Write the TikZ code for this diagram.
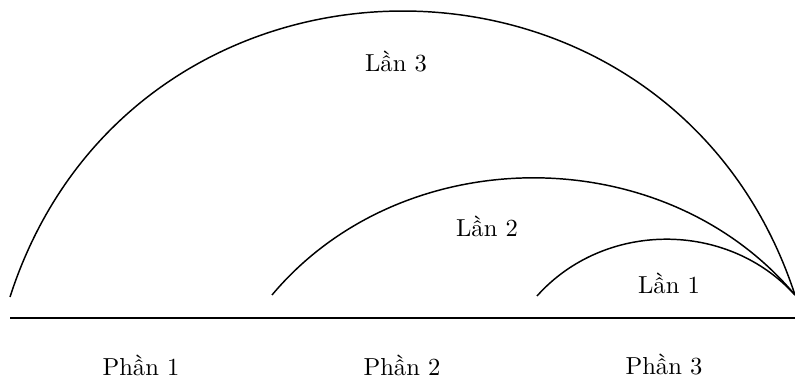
\documentclass[tikz,border=0pt]{standalone}
\usepackage{tikz}

\begin{document}
\begin{tikzpicture}[x=0.0143cm, y=0.0143cm, line width=0.6pt]
    \useasboundingbox (0,0) rectangle (795,379);

    % Base line
    \coordinate (b0) at (10,61);
    \coordinate (b1) at (795,61);
    \draw (b0) -- (b1);

    % Part labels
    \foreach \i/\x in {1/141, 2/402, 3/664} {
      \node (phan\i) at (\x,14) {Phần \i};
    }

    % Arcs
    \coordinate (s3) at (10,82);
    \coordinate (s2) at (272,84);
    \coordinate (s1) at (537,83);
    \coordinate (e) at (795,84);
    \draw (s3) to[bend left=72, looseness=1.3] (e);
    \draw (s2) to[bend left=50] (e);
    \draw (s1) to[bend left=48] (e);

    % Arc labels
    \node (lan3) at (396,317) {Lần 3};
    \node (lan2) at (487,153) {Lần 2};
    \node (lan1) at (669,96) {Lần 1};
\end{tikzpicture}
\end{document}
